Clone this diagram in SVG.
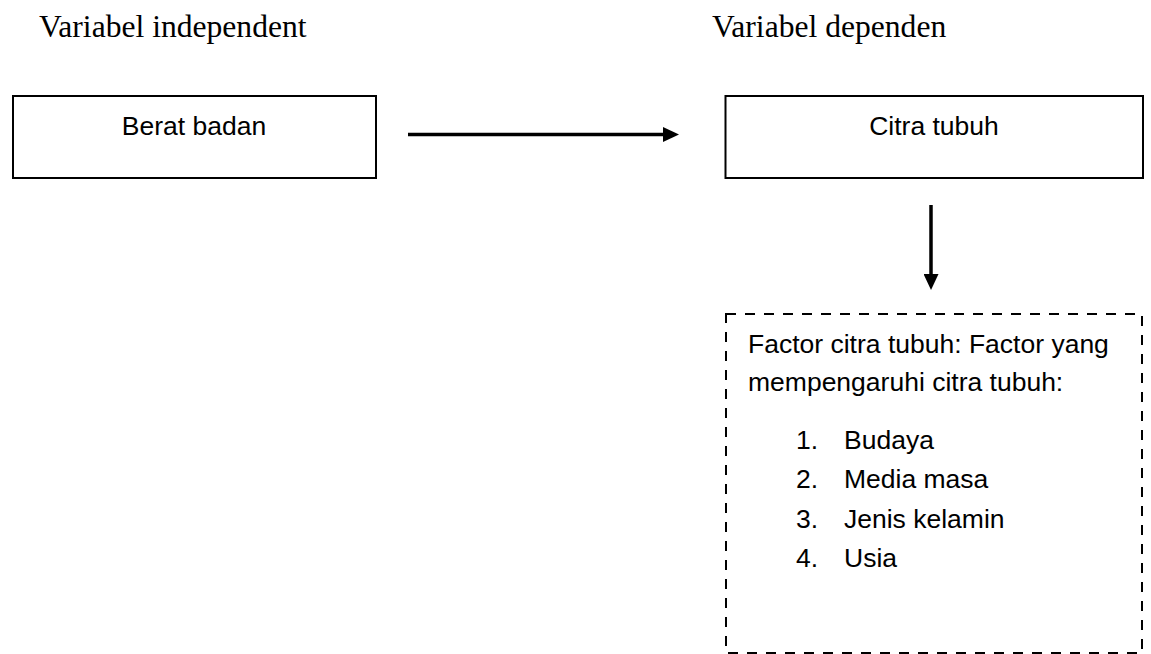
<svg xmlns="http://www.w3.org/2000/svg" width="1151" height="654" viewBox="0 0 1151 654">
  <style>
    .hd { font-family: "Liberation Serif", "Times New Roman", serif; font-size: 31.6px; fill: #000; }
    .tx { font-family: "Liberation Sans", Arial, sans-serif; font-size: 26.5px; fill: #000; }
    .box { fill: #fff; stroke: #000; stroke-width: 2; }
    .dash { fill: #fff; stroke: #000; stroke-width: 2; stroke-dasharray: 10 9; }
    .conn { stroke: #000; stroke-width: 3.5; fill: none; }
  </style>
  <defs>
    <marker id="arrow" markerWidth="16" markerHeight="15" refX="0" refY="7.5" orient="auto" markerUnits="userSpaceOnUse">
      <path d="M0,0 L16,7.5 L0,15 Z" fill="#000"/>
    </marker>
  </defs>
  <rect width="1151" height="654" fill="#fff"/>
  <text class="hd" x="39" y="37">Variabel independent</text>
  <text class="hd" x="712" y="37">Variabel dependen</text>
  <g id="berat-badan">
    <rect class="box" x="13" y="96" width="363" height="82"/>
    <text class="tx" x="194" y="135" text-anchor="middle">Berat badan</text>
  </g>
  <g id="citra-tubuh">
    <rect class="box" x="725.5" y="96" width="417.5" height="82"/>
    <text class="tx" x="934" y="135" text-anchor="middle">Citra tubuh</text>
  </g>
  <g id="faktor">
    <rect class="dash" x="726" y="314" width="416" height="339"/>
    <text class="tx" x="748" y="353">Factor citra tubuh: Factor yang</text>
    <text class="tx" x="748" y="391">mempengaruhi citra tubuh:</text>
    <text class="tx" x="796" y="449">1.</text>
    <text class="tx" x="844" y="449">Budaya</text>
    <text class="tx" x="796" y="488">2.</text>
    <text class="tx" x="844" y="488">Media masa</text>
    <text class="tx" x="796" y="528">3.</text>
    <text class="tx" x="844" y="528">Jenis kelamin</text>
    <text class="tx" x="796" y="567">4.</text>
    <text class="tx" x="844" y="567">Usia</text>
  </g>
  <g id="connectors">
    <line class="conn" x1="408" y1="134.5" x2="663" y2="134.5" marker-end="url(#arrow)"/>
    <line class="conn" x1="931" y1="205" x2="931" y2="274" marker-end="url(#arrow)"/>
  </g>
</svg>
